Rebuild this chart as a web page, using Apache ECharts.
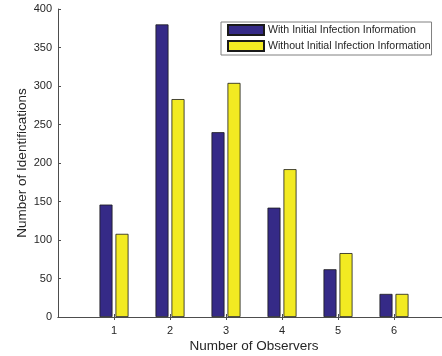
<!DOCTYPE html>
<html><head><meta charset="utf-8">
<script src="https://cdn.jsdelivr.net/npm/echarts@6/dist/echarts.min.js"></script>
<style>html,body{margin:0;padding:0;background:#fff;overflow:hidden;}#c{width:442px;height:356px;}</style>
</head><body><div id="c"></div>
<script>
const categories = ['1', '2', '3', '4', '5', '6'];
const withInfo = [146, 380, 240, 142, 62, 30];
const withoutInfo = [108, 283, 304, 192, 83, 30];
const seriesNames = ['With Initial Infection Information', 'Without Initial Infection Information'];
const yTicks = [0, 50, 100, 150, 200, 250, 300, 350, 400];

const axisData = [''].concat(categories, ['']);
const pad = arr => [null].concat(arr, [null]);
const FONT = 'Liberation Sans, Arial, Helvetica, sans-serif';
const axisCol = '#4d4d4d';
const txtCol = '#262626';
const tickIdx = (i) => i > 0 && i < axisData.length - 1;

const chart = echarts.init(document.getElementById('c'), null, {renderer: 'canvas'});
chart.setOption({
  animation: false,
  backgroundColor: '#fff',
  grid: {left: 58, width: 392, top: 9, height: 308, containLabel: false, outerBoundsMode: 'none'},
  legend: {
    orient: 'vertical', left: 221, top: 22,
    itemWidth: 36, itemHeight: 10, itemGap: 4,
    padding: [2, 1, 3, 6],
    borderColor: '#808080', borderWidth: 1, backgroundColor: '#fff',
    textStyle: {fontFamily: FONT, fontSize: 10.6, color: txtCol, padding: [0, 0, 0, -1]},
    data: seriesNames.map(n => ({name: n, icon: 'rect'}))
  },
  xAxis: [{
    type: 'category', data: axisData, boundaryGap: false, position: 'bottom',
    name: 'Number of Observers', nameLocation: 'middle', nameGap: 22, nameMoveOverlap: false,
    nameTextStyle: {fontFamily: FONT, fontSize: 13.5, color: txtCol},
    axisLine: {lineStyle: {color: axisCol, width: 1}},
    axisTick: {inside: true, length: 3, interval: (i) => tickIdx(i), lineStyle: {color: axisCol}},
    axisLabel: {fontFamily: FONT, fontSize: 11, color: txtCol, margin: 8, interval: 0},
    splitLine: {show: false}
  }, {
    type: 'category', data: axisData, boundaryGap: false, position: 'top',
    axisLine: {lineStyle: {color: axisCol, width: 1}},
    axisTick: {inside: true, length: 3, interval: (i) => tickIdx(i), lineStyle: {color: axisCol}},
    axisLabel: {show: false}, splitLine: {show: false}
  }],
  yAxis: [{
    type: 'value', min: yTicks[0], max: yTicks[yTicks.length - 1], interval: yTicks[1] - yTicks[0],
    name: 'Number of Identifications', nameLocation: 'middle', nameGap: 29, nameMoveOverlap: false,
    nameTextStyle: {fontFamily: FONT, fontSize: 13.5, color: txtCol},
    axisLine: {show: true, lineStyle: {color: axisCol, width: 1}},
    axisTick: {show: true, inside: true, length: 3, lineStyle: {color: axisCol}},
    axisLabel: {fontFamily: FONT, fontSize: 11, color: txtCol, margin: 6},
    splitLine: {show: false}
  }, {
    type: 'value', min: yTicks[0], max: yTicks[yTicks.length - 1], interval: yTicks[1] - yTicks[0], position: 'right',
    axisLine: {show: true, lineStyle: {color: axisCol, width: 1}},
    axisTick: {show: true, inside: true, length: 3, lineStyle: {color: axisCol}},
    axisLabel: {show: false}, splitLine: {show: false}
  }],
  series: [{
    name: seriesNames[0], type: 'bar', data: pad(withInfo), barWidth: 13, barGap: '23%',
    itemStyle: {color: '#352a87', borderColor: '#1a1a1a', borderWidth: 0.8}
  }, {
    name: seriesNames[1], type: 'bar', data: pad(withoutInfo), barWidth: 13, barGap: '23%',
    itemStyle: {color: '#f2ea22', borderColor: '#1a1a1a', borderWidth: 0.8}
  }]
});
</script></body></html>
